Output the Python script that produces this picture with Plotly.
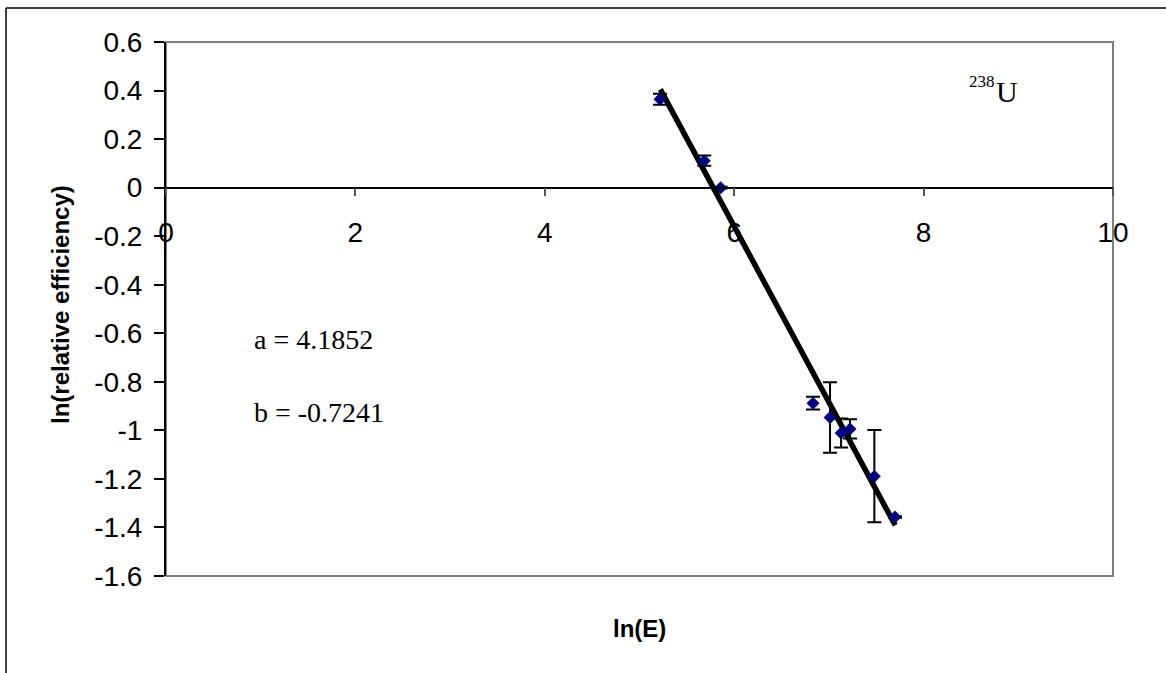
import plotly.graph_objects as go

# ---- data ----
ln_E = [5.216, 5.684, 5.857, 6.832, 7.012, 7.129, 7.223, 7.480, 7.698]
ln_eff = [0.364, 0.111, 0.000, -0.888, -0.947, -1.011, -0.994, -1.189, -1.357]
ln_eff_err = [0.023, 0.021, 0.004, 0.026, 0.145, 0.060, 0.040, 0.190, 0.003]

fit_x = [5.22, 7.70]
fit_y = [0.405, -1.391]

x_ticks = [0, 2, 4, 6, 8, 10]
x_ticklabels = ["0", "2", "4", "6", "8", "10"]
y_ticks = [0.6, 0.4, 0.2, 0.0, -0.2, -0.4, -0.6, -0.8, -1.0, -1.2, -1.4, -1.6]
y_ticklabels = ["0.6", "0.4", "0.2", "0", "-0.2", "-0.4", "-0.6", "-0.8", "-1", "-1.2", "-1.4", "-1.6"]

fit_a_text = "a = 4.1852"
fit_b_text = "b = -0.7241"
isotope_sup = "238"
isotope_sym = "U"
x_title = "ln(E)"
y_title = "ln(relative efficiency)"

# ---- figure ----
W, H = 1166, 673
L, R, T, B = 166, 53, 42, 97
PW, PH = W - L - R, H - T - B


def px(xp):
    return (xp - L) / PW


def py(yp):
    return (H - B - yp) / PH


fig = go.Figure()

fig.add_trace(go.Scatter(
    x=fit_x, y=fit_y, mode="lines",
    line=dict(color="black", width=5.5),
    showlegend=False, hoverinfo="skip",
))

fig.add_trace(go.Scatter(
    x=ln_E, y=ln_eff, mode="markers",
    marker=dict(symbol="diamond", size=10, color="#000080"),
    error_y=dict(type="data", array=ln_eff_err, visible=True,
                 color="black", thickness=2, width=7),
    showlegend=False,
))

y_zero_pos = (0 - y_ticks[-1]) / (y_ticks[0] - y_ticks[-1])

fig.update_layout(
    width=W, height=H,
    margin=dict(l=L, r=R, t=T, b=B, pad=0),
    paper_bgcolor="white", plot_bgcolor="white",
    font=dict(family="Arial, Liberation Sans, sans-serif", color="black"),
    xaxis=dict(
        range=[x_ticks[0], x_ticks[-1]],
        tickmode="array", tickvals=x_ticks, ticktext=x_ticklabels,
        anchor="free", position=y_zero_pos,
        showline=True, linecolor="black", linewidth=1.5,
        ticks="outside", ticklen=8, tickcolor="#555", tickwidth=1.5,
        showgrid=False, zeroline=False,
        tickfont=dict(size=28, family="Arial, Liberation Sans, sans-serif"),
        ticklabelstandoff=12,
    ),
    yaxis=dict(
        range=[y_ticks[-1], y_ticks[0]],
        tickmode="array", tickvals=y_ticks, ticktext=y_ticklabels,
        showline=True, linecolor="black", linewidth=2,
        ticks="outside", ticklen=10, tickcolor="black", tickwidth=1.5,
        showgrid=False, zeroline=False,
        tickfont=dict(size=28, family="Arial, Liberation Sans, sans-serif"),
        ticklabelstandoff=6,
    ),
    shapes=[
        dict(type="rect", xref="paper", yref="paper", x0=0, x1=1, y0=0, y1=1,
             line=dict(color="#808080", width=2), layer="below"),
        dict(type="line", xref="paper", yref="paper",
             x0=px(6), x1=px(6), y0=py(673), y1=py(8),
             line=dict(color="black", width=1.5), layer="below"),
        dict(type="line", xref="paper", yref="paper",
             x0=px(6), x1=px(1166), y0=py(8), y1=py(8),
             line=dict(color="black", width=1.5), layer="below"),
    ],
    annotations=[
        dict(text=fit_a_text, xref="paper", yref="paper", x=px(252), y=py(339),
             xanchor="left", yanchor="middle", showarrow=False,
             font=dict(family="Liberation Serif, serif", size=28, color="black")),
        dict(text=fit_b_text, xref="paper", yref="paper", x=px(252), y=py(412),
             xanchor="left", yanchor="middle", showarrow=False,
             font=dict(family="Liberation Serif, serif", size=28, color="black")),
        dict(text=isotope_sup, xref="paper", yref="paper", x=px(997), y=py(82),
             xanchor="right", yanchor="middle", showarrow=False,
             font=dict(family="Liberation Serif, serif", size=17, color="black")),
        dict(text=isotope_sym, xref="paper", yref="paper", x=px(994), y=py(91),
             xanchor="left", yanchor="middle", showarrow=False,
             font=dict(family="Liberation Serif, serif", size=30, color="black")),
        dict(text="<b>" + x_title + "</b>", xref="paper", yref="paper", x=0.5, y=py(628),
             xanchor="center", yanchor="middle", showarrow=False,
             font=dict(family="Arial, Liberation Sans, sans-serif", size=24, color="black")),
        dict(text="<b>" + y_title + "</b>", xref="paper", yref="paper", x=px(60), y=py(305),
             xanchor="center", yanchor="middle", showarrow=False, textangle=-90,
             font=dict(family="Arial, Liberation Sans, sans-serif", size=24, color="black")),
    ],
)

fig.write_html("out.html")
